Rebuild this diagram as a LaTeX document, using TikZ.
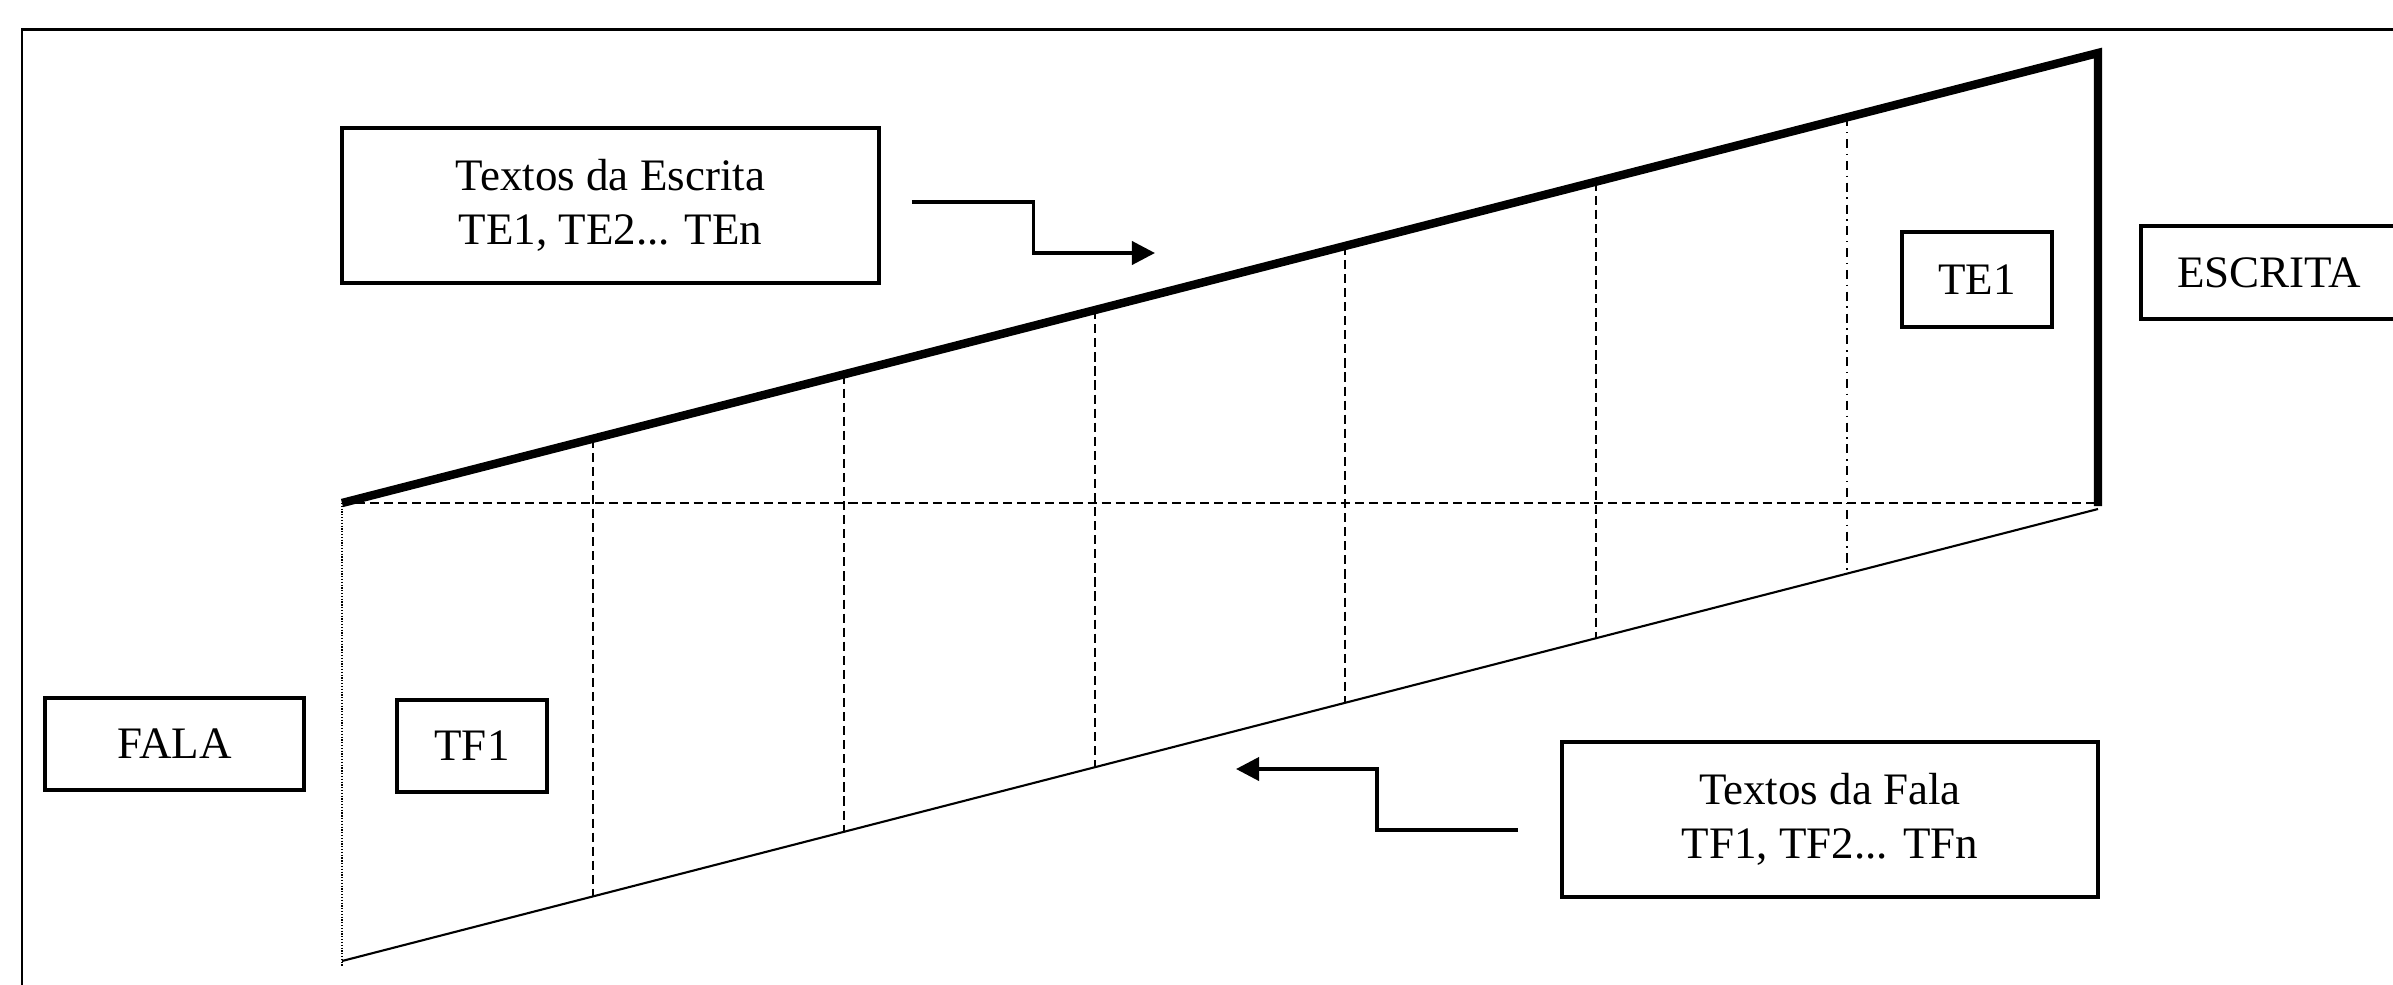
\documentclass[tikz,border=0pt]{standalone}
\usepackage{fontspec}
\setmainfont{Liberation Serif}
\usetikzlibrary{calc,arrows.meta}
\begin{document}
\begin{tikzpicture}[x=0.01cm,y=-0.01cm,
  box/.style={draw,line width=1pt,inner sep=0pt,align=center,font=\fontsize{12.8pt}{15.2pt}\selectfont},
  thinline/.style={line width=0.6pt},
  dsh/.style={line width=0.6pt,dash pattern=on 2.6pt off 1.4pt},
  dshdot/.style={line width=0.6pt,dash pattern=on 2.6pt off 1.6pt on 0.4pt off 1.6pt},
  dotline/.style={line width=0.35pt,dash pattern=on 0.35pt off 0.45pt},
  heavy/.style={line width=2.4pt},
  conn/.style={line width=1.1pt,-{Triangle[length=0.23cm,width=0.23cm]}}
]
\useasboundingbox (0,0) rectangle (2393,984);
\clip (0,0) rectangle (2393,984);
% outer frame (runs off the right and bottom)
\draw[line width=0.85pt] (22,29) rectangle (2600,1200);

% parallelogram corners
\coordinate (A) at (342,503);
\coordinate (B) at (2098,53);
\coordinate (C) at (342,961);
\coordinate (D) at (2098,509);
\coordinate (E) at (2098,503);
\coordinate (Ebot) at (2098,506);
\coordinate (Cdot) at (342,966);

\draw[dsh] (A) -- (E);
\foreach \k in {1,...,5}
  \draw[dsh] ($(A)!\k/7!(B)$) -- ($(C)!\k/7!(D)$);
\draw[dshdot] ($(A)!6/7!(B)$) -- ($(C)!6/7!(D)$);
\draw[thinline] (C) -- (D);
\draw[dotline] (A) -- (Cdot);
\draw[heavy] (A) -- (B) -- (Ebot);

% boxes
\node[box,minimum width=5.37cm,minimum height=1.55cm] (te) at (610.5,205.5) {Textos da Escrita\\TE1, TE2... TEn};
\node[box,minimum width=5.36cm,minimum height=1.55cm] (tf) at (1830,819.5) {Textos da Fala\\TF1, TF2... TFn};
\node[box,minimum width=2.59cm,minimum height=0.92cm] (fala) at (174.5,744) {FALA};
\node[box,minimum width=1.5cm,minimum height=0.92cm] (tfone) at (472,746) {TF1};
\node[box,minimum width=1.5cm,minimum height=0.95cm] (teone) at (1977,279.5) {TE1};
\node[box,minimum width=2.56cm,minimum height=0.93cm] (escrita) at (2269,272.5) {ESCRITA};

% arrows
\coordinate (s1) at ([xshift=0.31cm,yshift=0.035cm]te.east);
\coordinate (t1) at (1155,253);
\draw[conn] (s1) -| ($(s1)!0.5!(t1)$) |- (t1);
\coordinate (s2) at ([xshift=-0.42cm,yshift=-0.105cm]tf.west);
\coordinate (t2) at (1236,769);
\draw[conn] (s2) -| ($(s2)!0.5!(t2)$) |- (t2);
\end{tikzpicture}
\end{document}
